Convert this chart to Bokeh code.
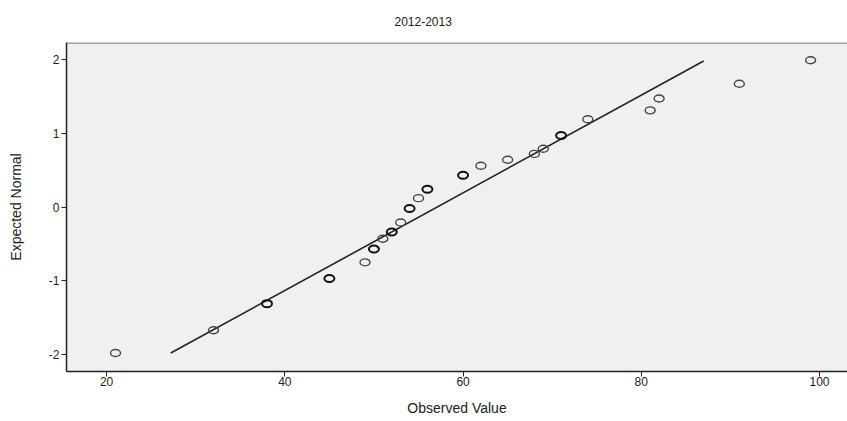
from bokeh.plotting import figure
from bokeh.models import Range1d, FixedTicker, Span, Title, PrintfTickFormatter
from bokeh.embed import file_html
from bokeh.resources import INLINE

# Data (Normal Q-Q plot, 2012-2013)
observed_single = [21, 32, 49, 51, 53, 55, 62, 65, 68, 69, 74, 81, 82, 91, 99]
expected_single = [-1.98, -1.67, -0.75, -0.43, -0.21, 0.12, 0.56, 0.64, 0.72, 0.79, 1.19, 1.31, 1.47, 1.67, 1.99]
observed_tied = [38, 45, 50, 52, 54, 56, 60, 71]
expected_tied = [-1.31, -0.97, -0.57, -0.34, -0.02, 0.24, 0.43, 0.97]
line_observed = [27.2, 87.0]
line_expected = [-1.98, 1.98]
x_ticks = [20, 40, 60, 80, 100]
y_ticks = [-2, -1, 0, 1, 2]

FONT = "Liberation Sans"
X0, X1 = 15.5, 103.14
Y0, Y1 = -2.23, 2.23

p = figure(width=847, height=421, output_backend="svg", toolbar_location=None,
           x_range=Range1d(X0, X1), y_range=Range1d(Y0, Y1),
           min_border_left=66, min_border_right=0, min_border_top=42, min_border_bottom=50)

p.title = Title(text="2012-2013", align="left", offset=328, vertical_align="top",
                text_font=FONT, text_font_size="12px", text_font_style="normal",
                text_color="#222222", standoff=30)

p.border_fill_color = "#FFFFFF"
p.background_fill_color = "#F0F0F0"
p.outline_line_color = None
p.xgrid.visible = False
p.ygrid.visible = False

p.add_layout(Span(location=Y1 - 0.006, dimension="width", line_color="#8a8a8a", line_width=1.5))

# axes
p.xaxis.ticker = FixedTicker(ticks=x_ticks)
p.yaxis.ticker = FixedTicker(ticks=y_ticks)
p.yaxis.formatter = PrintfTickFormatter(format="%d")
p.xaxis.formatter = PrintfTickFormatter(format="%d")
p.xaxis.axis_label = "Observed Value"
p.yaxis.axis_label = "Expected Normal"
for ax in (p.xaxis[0], p.yaxis[0]):
    ax.axis_label_text_font = FONT
    ax.axis_label_text_font_size = "14px"
    ax.axis_label_text_font_style = "normal"
    ax.axis_label_text_color = "#222222"
    ax.major_label_text_font = FONT
    ax.major_label_text_font_size = "12px"
    ax.major_label_text_color = "#222222"
    ax.major_tick_in = 0
    ax.major_tick_out = 5
    ax.major_tick_line_color = "#222222"
    ax.minor_tick_line_color = None
    ax.axis_line_color = "#222222"
    ax.axis_line_width = 1.5

p.xaxis.major_label_standoff = 0
p.xaxis.axis_label_standoff = 11
p.yaxis.major_label_standoff = 2
p.yaxis.axis_label_standoff = 22
p.yaxis.major_label_orientation = "horizontal"

# reference line
p.line(line_observed, line_expected, line_color="#222222", line_width=1.6)

# points
p.ellipse(observed_single, expected_single, width=10, height=7,
          width_units="screen", height_units="screen",
          fill_color=None, line_color="#444444", line_width=1.4)
p.ellipse(observed_tied, expected_tied, width=10, height=7,
          width_units="screen", height_units="screen",
          fill_color=None, line_color="#111111", line_width=2.0)

open("out.html", "w").write(file_html(p, INLINE))
